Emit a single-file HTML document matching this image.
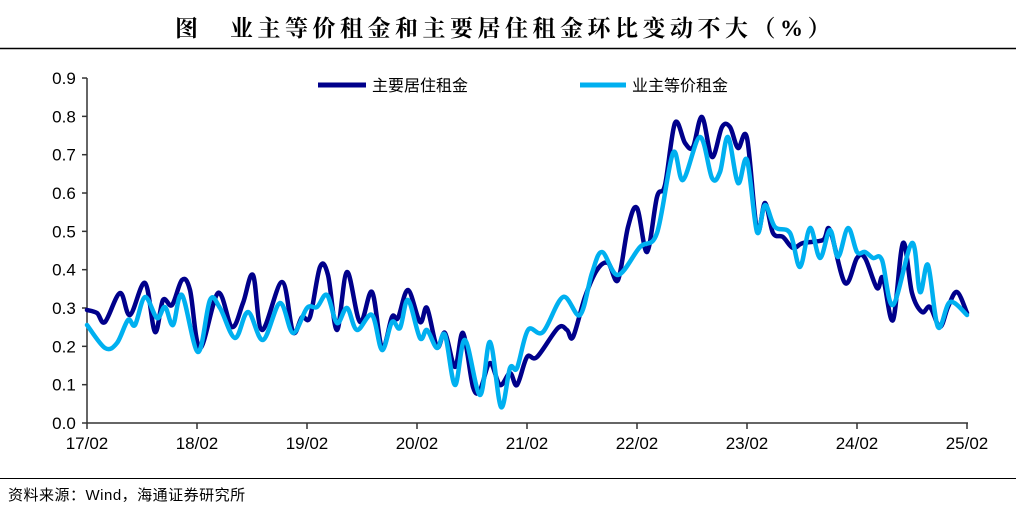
<!DOCTYPE html>
<html><head><meta charset="utf-8"><style>
body{margin:0;background:#fff;width:1016px;height:518px;overflow:hidden;font-family:"Liberation Sans","Noto Sans CJK SC",sans-serif}
</style></head><body>
<svg id="s" width="1016" height="518" xmlns="http://www.w3.org/2000/svg" font-family="Liberation Sans, Noto Sans CJK SC, sans-serif">
<text x="175" y="36" font-size="23" font-weight="bold" font-family="Liberation Serif, Noto Serif CJK SC, serif">图</text>
<text x="230" y="36" font-size="23" font-weight="bold" letter-spacing="4.5" font-family="Liberation Serif, Noto Serif CJK SC, serif">业主等价租金和主要居住租金环比变动不大（%）</text>
<line x1="0" y1="48.5" x2="1016" y2="48.5" stroke="#000" stroke-width="1.5"/>
<line x1="0" y1="478.5" x2="1016" y2="478.5" stroke="#000" stroke-width="1"/>
<text x="8" y="500" font-size="15" letter-spacing="0.5">资料来源：Wind，海通证券研究所</text>
<g stroke="#333" stroke-width="1.5">
<line x1="87" y1="78" x2="87" y2="423"/>
<line x1="87" y1="423" x2="968" y2="423"/>
</g>
<g id="ticks" stroke="#333" stroke-width="1.5"></g>
<g id="labels" font-size="17" fill="#000"></g>
<line x1="318" y1="85" x2="366" y2="85" stroke="#00008B" stroke-width="5"/>
<text x="372" y="91" font-size="16">主要居住租金</text>
<line x1="580" y1="85" x2="626" y2="85" stroke="#00B0F0" stroke-width="5"/>
<text x="632" y="91" font-size="16">业主等价租金</text>
<path id="d" fill="none" stroke="#00008B" stroke-width="4.5" stroke-linejoin="round" stroke-linecap="round"/>
<path id="l" fill="none" stroke="#00B0F0" stroke-width="4.5" stroke-linejoin="round" stroke-linecap="round"/>
</svg>
<script>
var NS="http://www.w3.org/2000/svg";
var t=document.getElementById('ticks'),lb=document.getElementById('labels');
function el(n,a,p,txt){var e=document.createElementNS(NS,n);for(var k in a)e.setAttribute(k,a[k]);if(txt)e.textContent=txt;p.appendChild(e);}
for(var i=0;i<=9;i++){var y=423-i*38.33;el('line',{x1:82,y1:y,x2:87,y2:y},t);el('text',{x:64,y:y+6,'text-anchor':'middle'},lb,(i/10).toFixed(1));}
var yrs=['17/02','18/02','19/02','20/02','21/02','22/02','23/02','24/02','25/02'];
for(var i=0;i<9;i++){var x=87+i*110;el('line',{x1:x,y1:423,x2:x,y2:429},t);el('text',{x:x,y:449,'text-anchor':'middle'},lb,yrs[i]);}
var D=[[87,310],[97,313],[105,322],[120,293],[130,315],[145,283],[155,332],[163,300],[172,305],[182,280],[190,290],[200,348],[218,293],[232,327],[243,303],[253,275],[262,330],[282,282],[293,332],[302,317],[310,317],[320,267],[328,275],[337,330],[347,272],[360,322],[372,292],[382,348],[392,317],[398,318],[408,290],[420,322],[427,308],[437,347],[445,333],[455,367],[463,333],[473,387],[480,390],[490,363],[500,385],[510,373],[517,385],[527,357],[537,357],[558,328],[567,330],[573,337],[585,297],[597,270],[608,263],[618,280],[628,227],[637,208],[647,252],[657,197],[665,185],[675,123],[685,143],[693,147],[702,117],[712,157],[722,127],[730,127],[738,148],[747,138],[757,230],[765,203],[773,233],[783,237],[793,248],[803,243],[823,240],[830,230],[845,283],[857,258],[865,258],[877,288],[883,278],[893,320],[903,243],[912,293],[922,312],[930,307],[940,327],[948,307],[957,292],[967,313]];
var L=[[87,325],[105,348],[117,343],[128,320],[135,325],[145,297],[157,318],[165,307],[173,325],[182,295],[198,352],[210,300],[220,308],[235,338],[248,312],[263,340],[280,303],[293,333],[307,308],[317,307],[327,295],[337,323],[347,308],[357,330],[372,315],[382,350],[392,322],[400,328],[408,300],[420,338],[427,330],[437,348],[445,335],[455,385],[465,340],[480,395],[490,342],[501,407],[510,368],[517,368],[528,330],[543,332],[563,297],[580,315],[592,273],[602,252],[618,275],[640,247],[657,233],[673,153],[683,180],[700,137],[712,178],[720,172],[728,137],[738,183],[747,160],[757,232],[765,205],[775,227],[790,233],[800,267],[810,228],[820,258],[830,230],[838,257],[848,228],[857,252],[865,252],[873,258],[882,260],[893,305],[912,243],[920,292],[928,265],[938,327],[950,302],[967,315]];
function cr(p){var s='M'+p[0][0]+','+p[0][1];for(var i=0;i<p.length-1;i++){var p0=p[i-1]||p[i],p1=p[i],p2=p[i+1],p3=p[i+2]||p2;var c1x=p1[0]+(p2[0]-p0[0])/6,c1y=p1[1]+(p2[1]-p0[1])/6,c2x=p2[0]-(p3[0]-p1[0])/6,c2y=p2[1]-(p3[1]-p1[1])/6;s+='C'+c1x.toFixed(1)+','+c1y.toFixed(1)+' '+c2x.toFixed(1)+','+c2y.toFixed(1)+' '+p2[0]+','+p2[1];}return s;}
document.getElementById('d').setAttribute('d',cr(D));
document.getElementById('l').setAttribute('d',cr(L));
</script>
</body></html>
